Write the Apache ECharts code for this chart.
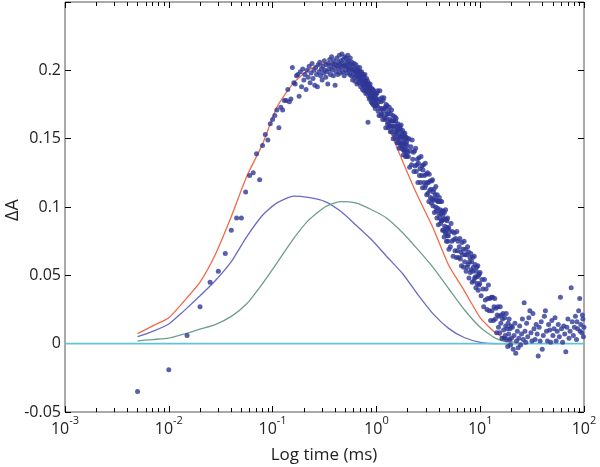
<!DOCTYPE html>
<html><head><meta charset="utf-8">
<script src="https://cdn.jsdelivr.net/npm/echarts@6/dist/echarts.min.js"></script>
<style>html,body{margin:0;padding:0;background:#fff}#c{width:600px;height:467px}</style>
</head><body><div id="c"></div>
<script>
// ---- axis ticks ----
const xTickValues = [0.001, 0.01, 0.1, 1, 10, 100];
const xTickExponents = ['-3', '-2', '-1', '0', '1', '2'];
const yTickValues = [-0.05, 0, 0.05, 0.1, 0.15, 0.2];
const xMinorMultipliers = [2, 3, 4, 5, 6, 7, 8, 9];

// ---- fitted components (time in ms, ΔA) ----
const fitTime  = [0.005,0.007,0.01,0.014,0.02,0.028,0.04,0.056,0.08,0.11,0.16,0.22,0.32,0.45,0.63,0.9,1.25,1.8,2.5,3.5,5,7,10,14,20,28];
const fitTotal = [0.0073,0.013,0.019,0.031,0.045,0.065,0.093,0.122,0.146,0.173,0.191,0.200,0.205,0.2045,0.198,0.184,0.162,0.133,0.108,0.085,0.057,0.039,0.019,0.008,0.0015,0];
const fitFast  = [0.0051,0.009,0.0144,0.024,0.035,0.046,0.060,0.078,0.094,0.103,0.108,0.107,0.104,0.097,0.087,0.076,0.064,0.051,0.036,0.022,0.011,0.0045,0.001,0,0,0];
const fitSlow  = [0.002,0.003,0.004,0.007,0.0107,0.014,0.020,0.029,0.044,0.059,0.077,0.090,0.100,0.104,0.103,0.098,0.092,0.081,0.069,0.056,0.040,0.025,0.012,0.004,0.0005,0];
const baseline = [[0.001, 0], [100, 0]];

// ---- measured data [time ms, ΔA] ----
const dataRise = [[0.005,-0.035],[0.01,-0.019],[0.015,0.006],[0.02,0.027],[0.025,0.045],[0.03,0.053],[0.035,0.066],[0.04,0.083],[0.045,0.092],[0.05,0.092],[0.055,0.111],[0.06,0.123],[0.065,0.125],[0.07,0.139],[0.075,0.120],[0.08,0.145],[0.085,0.153],[0.09,0.149],[0.095,0.161],[0.1,0.164],[0.105,0.167],[0.11,0.171],[0.115,0.158],[0.12,0.173],[0.125,0.171],[0.13,0.178],[0.135,0.178],[0.14,0.186],[0.145,0.177],[0.15,0.179],[0.155,0.202],[0.16,0.191],[0.165,0.190],[0.17,0.196],[0.175,0.197],[0.18,0.181]];
const dataPeak = [[0.185,0.199],[0.19,0.188],[0.195,0.201],[0.2,0.193],[0.205,0.197],[0.21,0.186],[0.215,0.200],[0.22,0.195],[0.225,0.203],[0.23,0.191],[0.235,0.198],[0.24,0.205],[0.245,0.194],[0.25,0.200],[0.255,0.189],[0.26,0.202],[0.265,0.197],[0.27,0.188],[0.275,0.204],[0.28,0.199],[0.285,0.206],[0.29,0.196],[0.295,0.201],[0.3,0.193],[0.305,0.203],[0.31,0.198],[0.315,0.207],[0.32,0.200],[0.325,0.195],[0.33,0.204],[0.335,0.199],[0.34,0.190],[0.345,0.205],[0.35,0.201],[0.355,0.208],[0.36,0.197],[0.365,0.203],[0.37,0.210],[0.375,0.200],[0.38,0.205],[0.385,0.196],[0.39,0.207],[0.395,0.202],[0.4,0.189],[0.405,0.204],[0.41,0.199],[0.415,0.209],[0.42,0.203],[0.425,0.197],[0.43,0.206],[0.435,0.201],[0.44,0.211],[0.445,0.204],[0.45,0.198],[0.455,0.207],[0.46,0.202],[0.465,0.212],[0.47,0.205],[0.475,0.199],[0.48,0.208],[0.485,0.203],[0.49,0.196],[0.495,0.210],[0.5,0.204],[0.505,0.200],[0.51,0.209],[0.515,0.203],[0.52,0.206],[0.525,0.198],[0.53,0.211],[0.535,0.202],[0.54,0.207],[0.545,0.200],[0.55,0.205],[0.555,0.197],[0.56,0.209],[0.565,0.201],[0.57,0.204],[0.575,0.196],[0.58,0.206],[0.585,0.200],[0.59,0.193],[0.595,0.203],[0.6,0.198],[0.61,0.205],[0.615,0.195],[0.62,0.201],[0.625,0.192],[0.63,0.199],[0.635,0.204],[0.64,0.196],[0.645,0.200],[0.65,0.190],[0.655,0.202],[0.66,0.197],[0.665,0.194],[0.67,0.200],[0.675,0.191],[0.68,0.198],[0.685,0.195],[0.69,0.202],[0.695,0.193],[0.7,0.199],[0.705,0.188],[0.71,0.196],[0.715,0.192],[0.72,0.199],[0.725,0.190],[0.73,0.195],[0.735,0.186],[0.74,0.197],[0.745,0.192],[0.75,0.189],[0.755,0.196],[0.76,0.185],[0.765,0.193],[0.77,0.190],[0.775,0.197],[0.78,0.187],[0.785,0.193],[0.79,0.183],[0.795,0.191],[0.8,0.188],[0.805,0.194],[0.81,0.184],[0.815,0.190],[0.82,0.186],[0.825,0.192],[0.83,0.162],[0.835,0.188],[0.84,0.181],[0.845,0.190],[0.85,0.185],[0.855,0.179],[0.86,0.188],[0.865,0.183],[0.87,0.190],[0.875,0.180],[0.88,0.186],[0.885,0.182],[0.89,0.177],[0.895,0.187],[0.9,0.181],[0.905,0.185],[0.91,0.176],[0.915,0.184],[0.92,0.180],[0.925,0.186],[0.93,0.175],[0.935,0.182],[0.94,0.178],[0.945,0.185],[0.95,0.179],[0.955,0.174],[0.96,0.183],[0.965,0.177],[0.97,0.181],[0.975,0.172],[0.98,0.180],[0.985,0.176],[0.99,0.183],[0.995,0.174],[1.0,0.179]];
const dataDecayA = [[1.01,0.183],[1.02,0.174],[1.03,0.185],[1.04,0.170],[1.05,0.177],[1.06,0.167],[1.07,0.179],[1.08,0.185],[1.09,0.172],[1.10,0.167],[1.11,0.177],[1.12,0.168],[1.13,0.180],[1.14,0.172],[1.15,0.164],[1.16,0.178],[1.17,0.170],[1.18,0.180],[1.19,0.166],[1.20,0.172],[1.21,0.164],[1.22,0.173],[1.23,0.158],[1.24,0.175],[1.25,0.165],[1.26,0.168],[1.27,0.174],[1.28,0.161],[1.29,0.168],[1.30,0.158],[1.31,0.170],[1.32,0.162],[1.33,0.173],[1.34,0.159],[1.35,0.164],[1.36,0.155],[1.37,0.168],[1.38,0.159],[1.39,0.163],[1.40,0.171],[1.41,0.155],[1.42,0.163],[1.43,0.159],[1.44,0.167],[1.45,0.150],[1.46,0.163],[1.47,0.157],[1.48,0.163],[1.49,0.153],[1.50,0.166],[1.51,0.159],[1.52,0.150],[1.53,0.163],[1.54,0.153],[1.55,0.165],[1.56,0.155],[1.57,0.159],[1.58,0.147],[1.59,0.156],[1.60,0.150],[1.61,0.161],[1.62,0.147],[1.63,0.156],[1.64,0.153],[1.65,0.143],[1.66,0.157],[1.67,0.150],[1.68,0.159],[1.69,0.146],[1.70,0.152],[1.71,0.157],[1.72,0.147],[1.73,0.160],[1.74,0.143],[1.75,0.151],[1.76,0.145],[1.77,0.154],[1.78,0.147],[1.79,0.156],[1.80,0.142],[1.81,0.151],[1.82,0.138],[1.83,0.154],[1.84,0.145],[1.85,0.150],[1.86,0.141],[1.87,0.147],[1.88,0.154],[1.89,0.142],[1.90,0.151],[1.91,0.137],[1.92,0.146],[1.93,0.140],[1.94,0.151],[1.95,0.142],[1.96,0.148],[1.97,0.137],[1.98,0.145],[1.99,0.150],[2.00,0.140]];
const dataDecayB = [[2.03,0.137],[2.06,0.150],[2.09,0.129],[2.12,0.141],[2.15,0.144],[2.18,0.131],[2.21,0.149],[2.24,0.135],[2.27,0.140],[2.30,0.126],[2.33,0.141],[2.36,0.130],[2.39,0.143],[2.42,0.126],[2.45,0.131],[2.48,0.135],[2.51,0.118],[2.54,0.132],[2.57,0.136],[2.60,0.123],[2.63,0.128],[2.66,0.118],[2.69,0.137],[2.72,0.123],[2.75,0.130],[2.78,0.114],[2.81,0.127],[2.84,0.131],[2.87,0.118],[2.90,0.123],[2.93,0.114],[2.96,0.132],[2.99,0.116],[3.02,0.124],[3.05,0.109],[3.08,0.118],[3.11,0.125],[3.14,0.110],[3.17,0.118],[3.20,0.104],[3.23,0.124],[3.26,0.112],[3.29,0.119],[3.32,0.107],[3.35,0.113],[3.38,0.103],[3.41,0.119],[3.44,0.106],[3.47,0.120],[3.50,0.101],[3.53,0.111],[3.56,0.105],[3.59,0.113],[3.62,0.096],[3.65,0.106],[3.68,0.109],[3.71,0.100],[3.74,0.115],[3.77,0.097],[3.80,0.105],[3.83,0.092],[3.86,0.109],[3.89,0.099],[3.92,0.104],[3.95,0.087],[3.98,0.104],[4.01,0.095],[4.04,0.107],[4.07,0.092],[4.10,0.098],[4.13,0.104],[4.16,0.088],[4.19,0.095],[4.22,0.090],[4.25,0.104],[4.28,0.090],[4.31,0.097],[4.34,0.083],[4.37,0.094],[4.40,0.097],[4.43,0.083],[4.46,0.091],[4.49,0.078],[4.52,0.096],[4.55,0.086],[4.58,0.091],[4.61,0.081],[4.64,0.098],[4.67,0.082],[4.70,0.091],[4.73,0.075],[4.76,0.085],[4.79,0.090],[4.82,0.079],[4.85,0.092],[4.88,0.075],[4.91,0.084],[4.94,0.079],[4.97,0.085],[5.00,0.069]];
const dataDecayC = [[5.08,0.082],[5.16,0.071],[5.24,0.088],[5.32,0.075],[5.40,0.082],[5.48,0.064],[5.56,0.076],[5.64,0.081],[5.72,0.068],[5.80,0.077],[5.88,0.063],[5.96,0.082],[6.04,0.068],[6.12,0.075],[6.20,0.063],[6.28,0.071],[6.36,0.077],[6.44,0.062],[6.52,0.067],[6.60,0.057],[6.68,0.074],[6.76,0.065],[6.84,0.069],[6.92,0.056],[7.00,0.075],[7.08,0.060],[7.16,0.065],[7.24,0.069],[7.32,0.053],[7.40,0.065],[7.48,0.056],[7.56,0.071],[7.64,0.058],[7.72,0.067],[7.80,0.048],[7.88,0.060],[7.96,0.063],[8.04,0.052],[8.12,0.066],[8.20,0.054],[8.28,0.060],[8.36,0.045],[8.44,0.063],[8.52,0.053],[8.60,0.056],[8.68,0.046],[8.76,0.064],[8.84,0.048],[8.92,0.058],[9.00,0.049],[9.08,0.041],[9.16,0.053],[9.24,0.056],[9.32,0.044],[9.40,0.049],[9.48,0.057],[9.56,0.039],[9.64,0.050],[9.72,0.043],[9.80,0.051],[9.88,0.044],[9.96,0.052]];
const dataTailA = [[10.2,0.035],[10.4,0.047],[10.6,0.040],[10.8,0.027],[11.0,0.047],[11.2,0.032],[11.4,0.040],[11.6,0.025],[11.8,0.033],[12.0,0.043],[12.2,0.024],[12.4,0.033],[12.6,0.017],[12.8,0.034],[13.0,0.024],[13.2,0.034],[13.4,0.017],[13.6,0.027],[13.8,0.033],[14.0,0.018],[14.2,0.026],[14.4,0.008],[14.6,0.021],[14.8,0.027],[15.0,0.012],[15.2,0.020],[15.4,0.008],[15.6,0.027],[15.8,0.015],[16.0,0.021],[16.2,0.004],[16.4,0.018],[16.6,0.022],[16.8,0.010],[17.0,0.004],[17.2,0.019],[17.4,0.006],[17.6,0.013],[17.8,0.022],[18.0,0.003],[18.2,0.011],[18.4,-0.002],[18.6,0.015],[18.8,0.007],[19.0,0.018],[19.2,0.003],[19.4,0.011],[19.6,-0.001],[19.8,0.013],[20.0,0.004]];
const dataTailB = [[20.4,0.012],[20.8,-0.004],[21.2,0.006],[21.6,0.015],[22.0,-0.007],[22.4,0.002],[22.8,0.009],[23.2,-0.003],[23.6,0.004],[24.0,0.013],[24.5,-0.001],[25.0,0.007],[25.5,0.018],[26.0,0.003],[26.5,0.030],[27.0,0.009],[27.5,0.001],[28.0,0.015],[28.7,0.005],[29.4,0.019],[30.1,0.024],[30.8,0.008],[31.5,0.002],[32.2,0.022],[33.0,0.011],[33.8,0.003],[34.6,0.014],[35.4,0.007],[36.2,-0.009],[37.0,0.012],[37.8,0.002],[38.7,0.016],[39.6,-0.004],[40.5,0.006],[41.5,0.020],[42.5,0.024],[43.5,0.009],[44.5,0.002],[45.6,0.014],[46.7,0.010],[47.8,0.001],[49.0,0.017],[50.2,0.006],[51.4,0.011],[52.6,0.019],[53.9,0.002],[55.2,0.009],[56.5,0.014],[57.9,0.005],[59.3,0.034],[60.7,0.011],[62.2,0.001],[63.7,0.013],[65.2,0.007],[66.8,-0.006],[68.4,0.012],[70.0,0.018],[71.7,0.004],[73.4,0.009],[75.2,0.041],[77.0,0.016],[78.9,0.006],[80.8,0.012],[82.7,0.020],[84.7,0.003],[85.5,0.016],[86.7,0.011],[88.8,0.024],[90.9,0.033],[91.8,0.009],[93.1,0.014],[95.3,0.008],[96.5,0.021],[97.6,0.018],[98.7,0.005],[99.9,0.012]];

// ---- build ----
const FONT = '"Open Sans", sans-serif';
const xMinorTicks = [];
for (let d = 0; d < xTickValues.length - 1; d++) {
  xMinorMultipliers.forEach(m => xMinorTicks.push(+(xTickValues[d] * m).toPrecision(3)));
}
const zip = (xs, ys) => xs.map((x, i) => [x, ys[i]]);
const scatterData = [].concat(dataRise, dataPeak, dataDecayA, dataDecayB, dataDecayC, dataTailA, dataTailB);

const xLabelFmt = v => {
  const i = xTickValues.findIndex(t => Math.abs(Math.log10(t) - Math.log10(v)) < 1e-6);
  return '{b|10}{s|' + (i >= 0 ? xTickExponents[i] : '') + '}';
};
const yLabelFmt = v => {
  const hit = yTickValues.some(t => Math.abs(t - v) < 1e-9);
  return hit ? String(+v.toFixed(2)) : '';
};

const tickStyle = { color: '#000', width: 1 };
const gridBox = { left: 65, right: 16, top: 2, bottom: 55, outerBoundsMode: 'none' };
const logX = (extra) => Object.assign({ type: 'log', logBase: 10, min: 0.001, max: 100,
  axisLine: { show: false, onZero: false }, splitLine: { show: false }, minorTick: { show: false } }, extra);
const valY = (extra) => Object.assign({ type: 'value', min: -0.05, max: 0.25, interval: 0.05,
  axisLine: { show: false, onZero: false }, splitLine: { show: false } }, extra);

const chart = echarts.init(document.getElementById('c'), null, { renderer: 'canvas' });
chart.setOption({
  animation: false,
  backgroundColor: '#ffffff',
  grid: [
    Object.assign({ show: true, borderColor: '#555', borderWidth: 1 }, gridBox),
    Object.assign({}, gridBox)
  ],
  xAxis: [
    logX({ gridIndex: 0, position: 'bottom',
      axisTick: { show: true, inside: true, length: 6, customValues: xTickValues, lineStyle: tickStyle },
      axisLabel: { show: true, customValues: xTickValues, formatter: xLabelFmt, margin: 3,
        rich: { b: { fontFamily: FONT, fontSize: 16, color: '#222', lineHeight: 22, verticalAlign: 'bottom' },
                s: { fontFamily: FONT, fontSize: 11, color: '#222', lineHeight: 12, verticalAlign: 'top' } } } }),
    logX({ gridIndex: 0, position: 'top', axisLabel: { show: false },
      axisTick: { show: true, inside: true, length: 6, customValues: xTickValues, lineStyle: tickStyle } }),
    logX({ gridIndex: 1, position: 'bottom', axisLabel: { show: false },
      axisTick: { show: true, inside: true, length: 4, customValues: xMinorTicks, lineStyle: tickStyle } }),
    logX({ gridIndex: 1, position: 'top', axisLabel: { show: false },
      axisTick: { show: true, inside: true, length: 4, customValues: xMinorTicks, lineStyle: tickStyle } })
  ],
  yAxis: [
    valY({ gridIndex: 0, position: 'left',
      axisTick: { show: true, inside: true, length: 6, lineStyle: tickStyle },
      axisLabel: { show: true, formatter: yLabelFmt, fontFamily: FONT, fontSize: 16, color: '#222', margin: 4 } }),
    valY({ gridIndex: 0, position: 'right', axisLabel: { show: false },
      axisTick: { show: true, inside: true, length: 6, lineStyle: tickStyle } }),
    valY({ gridIndex: 1, show: false })
  ],
  graphic: [
    { type: 'text', x: 13, y: 210, rotation: Math.PI / 2,
      style: { text: 'ΔA', font: '18px "Open Sans", sans-serif', fill: '#222', textAlign: 'center', textVerticalAlign: 'middle' } },
    { type: 'text', x: 324, y: 455,
      style: { text: 'Log time (ms)', font: '17px "Open Sans", sans-serif', fill: '#222', textAlign: 'center', textVerticalAlign: 'middle' } }
  ],
  series: [
    { type: 'line', name: 'total', xAxisIndex: 0, yAxisIndex: 0, data: zip(fitTime, fitTotal), showSymbol: false, smooth: 0.2,
      lineStyle: { color: '#f26a4a', width: 1.3 }, z: 3 },
    { type: 'line', name: 'fast', xAxisIndex: 0, yAxisIndex: 0, data: zip(fitTime, fitFast), showSymbol: false, smooth: 0.2,
      lineStyle: { color: '#6a6cc0', width: 1.3 }, z: 3 },
    { type: 'line', name: 'slow', xAxisIndex: 0, yAxisIndex: 0, data: zip(fitTime, fitSlow), showSymbol: false, smooth: 0.2,
      lineStyle: { color: '#6e9f88', width: 1.3 }, z: 3 },
    { type: 'line', name: 'zero', xAxisIndex: 0, yAxisIndex: 0, data: baseline, showSymbol: false,
      lineStyle: { color: '#62c4da', width: 1.6 }, z: 4 },
    { type: 'scatter', name: 'data', xAxisIndex: 0, yAxisIndex: 0, data: scatterData, symbolSize: 5,
      itemStyle: { color: '#2e3796' }, z: 5 }
  ]
});
</script>
</body></html>
